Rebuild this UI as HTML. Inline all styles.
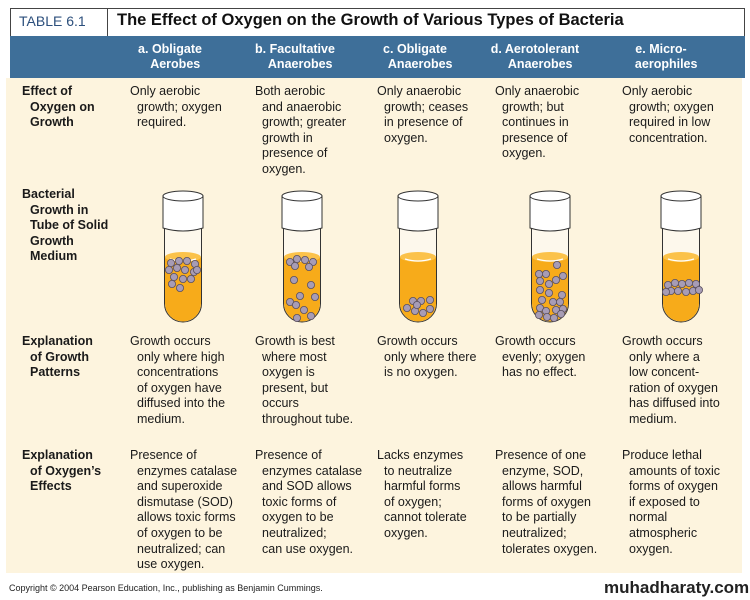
<!DOCTYPE html>
<html><head><meta charset="utf-8"><style>
*{margin:0;padding:0;box-sizing:border-box}
body{width:750px;height:600px;background:#fff;position:relative;overflow:hidden;font-family:"Liberation Sans",sans-serif;color:#1a1a1a}
.a{position:absolute}
.t{position:absolute;font-size:12.5px;line-height:15.6px;padding-left:7px;text-indent:-7px;white-space:nowrap}
.l{position:absolute;font-size:12.5px;font-weight:bold;line-height:15.6px;padding-left:8px;text-indent:-8px;white-space:nowrap}
.h{position:absolute;color:#fff;font-weight:bold;font-size:12.5px;line-height:15px;text-align:center;white-space:nowrap}
</style></head><body>
<div class="a" style="left:10px;top:8px;width:735px;height:28px;border:1px solid #444;border-bottom:none;background:#fff"></div>
<div class="a" style="left:107px;top:8px;width:1px;height:28px;background:#444"></div>
<div class="a" style="left:19px;top:13px;font-size:14px;color:#2c4f7c">TABLE 6.1</div>
<div class="a" style="left:117px;top:11px;font-size:16.5px;font-weight:bold;color:#111">The Effect of Oxygen on the Growth of Various Types of Bacteria</div>
<div class="a" style="left:10px;top:36px;width:735px;height:42px;background:#3e6f99"></div>
<div class="a" style="left:6px;top:78px;width:736px;height:495px;background:#fdf4de"></div>
<div class="h" style="left:115px;top:42px;width:110px">a. Obligate<br>&nbsp;&nbsp;&nbsp;Aerobes</div>
<div class="h" style="left:240px;top:42px;width:110px">b. Facultative<br>&nbsp;&nbsp;&nbsp;Anaerobes</div>
<div class="h" style="left:360px;top:42px;width:110px">c. Obligate<br>&nbsp;&nbsp;&nbsp;Anaerobes</div>
<div class="h" style="left:480px;top:42px;width:110px">d. Aerotolerant<br>&nbsp;&nbsp;&nbsp;Anaerobes</div>
<div class="h" style="left:606px;top:42px;width:110px">e. Micro-<br>&nbsp;&nbsp;&nbsp;aerophiles</div>

<div class="l" style="left:22px;top:84px">Effect of<br>Oxygen on<br>Growth</div>
<div class="t" style="left:130px;top:84px">Only aerobic<br>growth; oxygen<br>required.</div>
<div class="t" style="left:255px;top:84px">Both aerobic<br>and anaerobic<br>growth; greater<br>growth in<br>presence of<br>oxygen.</div>
<div class="t" style="left:377px;top:84px">Only anaerobic<br>growth; ceases<br>in presence of<br>oxygen.</div>
<div class="t" style="left:495px;top:84px">Only anaerobic<br>growth; but<br>continues in<br>presence of<br>oxygen.</div>
<div class="t" style="left:622px;top:84px">Only aerobic<br>growth; oxygen<br>required in low<br>concentration.</div>

<div class="l" style="left:22px;top:187px">Bacterial<br>Growth in<br>Tube of Solid<br>Growth<br>Medium</div>

<div class="l" style="left:22px;top:334px">Explanation<br>of Growth<br>Patterns</div>
<div class="t" style="left:130px;top:334px">Growth occurs<br>only where high<br>concentrations<br>of oxygen have<br>diffused into the<br>medium.</div>
<div class="t" style="left:255px;top:334px">Growth is best<br>where most<br>oxygen is<br>present, but<br>occurs<br>throughout tube.</div>
<div class="t" style="left:377px;top:334px">Growth occurs<br>only where there<br>is no oxygen.</div>
<div class="t" style="left:495px;top:334px">Growth occurs<br>evenly; oxygen<br>has no effect.</div>
<div class="t" style="left:622px;top:334px">Growth occurs<br>only where a<br>low concent-<br>ration of oxygen<br>has diffused into<br>medium.</div>

<div class="l" style="left:22px;top:448px">Explanation<br>of Oxygen’s<br>Effects</div>
<div class="t" style="left:130px;top:448px">Presence of<br>enzymes catalase<br>and superoxide<br>dismutase (SOD)<br>allows toxic forms<br>of oxygen to be<br>neutralized; can<br>use oxygen.</div>
<div class="t" style="left:255px;top:448px">Presence of<br>enzymes catalase<br>and SOD allows<br>toxic forms of<br>oxygen to be<br>neutralized;<br>can use oxygen.</div>
<div class="t" style="left:377px;top:448px">Lacks enzymes<br>to neutralize<br>harmful forms<br>of oxygen;<br>cannot tolerate<br>oxygen.</div>
<div class="t" style="left:495px;top:448px">Presence of one<br>enzyme, SOD,<br>allows harmful<br>forms of oxygen<br>to be partially<br>neutralized;<br>tolerates oxygen.</div>
<div class="t" style="left:622px;top:448px">Produce lethal<br>amounts of toxic<br>forms of oxygen<br>if exposed to<br>normal<br>atmospheric<br>oxygen.</div>

<div class="a" style="left:9px;top:583px;font-size:9px;color:#222">Copyright © 2004 Pearson Education, Inc., publishing as Benjamin Cummings.</div>
<div class="a" style="left:604px;top:578px;font-size:17px;font-weight:bold;color:#222">muhadharaty.com</div>

<svg class="a" style="left:0;top:0" width="750" height="600">
<defs>
<g id="tube">
<path d="M-18.5 228 V303.5 A18.5 18.5 0 0 0 18.5 303.5 V228 Z" fill="#fdf8ec" stroke="#333" stroke-width="1"/>
<path d="M-18 257 V303.5 A18 18 0 0 0 18 303.5 V257 Z" fill="#f7ab1a"/>
<ellipse cx="0" cy="257" rx="18" ry="5" fill="#fbc24a"/>
<path d="M-13 259 Q0 263 13 259" stroke="#fff" stroke-width="1.3" fill="none"/>
<path d="M-20 196 V228 Q0 234 20 228 V196 Z" fill="#fff" stroke="#333" stroke-width="1"/>
<ellipse cx="0" cy="196" rx="20" ry="5" fill="#fff" stroke="#333" stroke-width="1"/>
</g>
</defs>
<use href="#tube" x="183"/><use href="#tube" x="302"/><use href="#tube" x="418"/><use href="#tube" x="550"/><use href="#tube" x="681"/>
<g fill="#a79cb5" stroke="#5a5060" stroke-width="0.8">
<circle cx="171" cy="263" r="3.6"/><circle cx="179" cy="261" r="3.6"/><circle cx="187" cy="261" r="3.6"/><circle cx="195" cy="264" r="3.6"/><circle cx="169" cy="270" r="3.6"/><circle cx="177" cy="268" r="3.6"/><circle cx="185" cy="270" r="3.6"/><circle cx="194" cy="272" r="3.6"/><circle cx="174" cy="277" r="3.6"/><circle cx="183" cy="279" r="3.6"/><circle cx="191" cy="279" r="3.6"/><circle cx="180" cy="288" r="3.6"/><circle cx="172" cy="284" r="3.6"/><circle cx="197" cy="270" r="3.6"/>
<circle cx="290" cy="262" r="3.6"/><circle cx="297" cy="259" r="3.6"/><circle cx="305" cy="260" r="3.6"/><circle cx="313" cy="262" r="3.6"/><circle cx="295" cy="266" r="3.6"/><circle cx="309" cy="267" r="3.6"/><circle cx="294" cy="280" r="3.6"/><circle cx="311" cy="285" r="3.6"/><circle cx="300" cy="296" r="3.6"/><circle cx="315" cy="297" r="3.6"/><circle cx="290" cy="302" r="3.6"/><circle cx="304" cy="310" r="3.6"/><circle cx="297" cy="318" r="3.6"/><circle cx="311" cy="316" r="3.6"/><circle cx="296" cy="305" r="3.6"/>
<circle cx="407" cy="308" r="3.6"/><circle cx="413" cy="301" r="3.6"/><circle cx="421" cy="301" r="3.6"/><circle cx="430" cy="300" r="3.6"/><circle cx="415" cy="311" r="3.6"/><circle cx="423" cy="313" r="3.6"/><circle cx="430" cy="309" r="3.6"/><circle cx="417" cy="305" r="3.6"/>
<circle cx="557" cy="265" r="3.6"/><circle cx="539" cy="274" r="3.6"/><circle cx="546" cy="274" r="3.6"/><circle cx="563" cy="276" r="3.6"/><circle cx="540" cy="281" r="3.6"/><circle cx="556" cy="280" r="3.6"/><circle cx="549" cy="284" r="3.6"/><circle cx="540" cy="290" r="3.6"/><circle cx="549" cy="293" r="3.6"/><circle cx="562" cy="295" r="3.6"/><circle cx="542" cy="300" r="3.6"/><circle cx="553" cy="302" r="3.6"/><circle cx="560" cy="302" r="3.6"/><circle cx="540" cy="308" r="3.6"/><circle cx="546" cy="311" r="3.6"/><circle cx="556" cy="310" r="3.6"/><circle cx="563" cy="309" r="3.6"/><circle cx="539" cy="315" r="3.6"/><circle cx="547" cy="317" r="3.6"/><circle cx="554" cy="318" r="3.6"/><circle cx="561" cy="314" r="3.6"/>
<circle cx="668" cy="285" r="3.6"/><circle cx="675" cy="283" r="3.6"/><circle cx="682" cy="284" r="3.6"/><circle cx="689" cy="283" r="3.6"/><circle cx="696" cy="284" r="3.6"/><circle cx="671" cy="291" r="3.6"/><circle cx="678" cy="291" r="3.6"/><circle cx="686" cy="292" r="3.6"/><circle cx="693" cy="291" r="3.6"/><circle cx="699" cy="290" r="3.6"/><circle cx="666" cy="292" r="3.6"/>
</g>
</svg>
</body></html>
